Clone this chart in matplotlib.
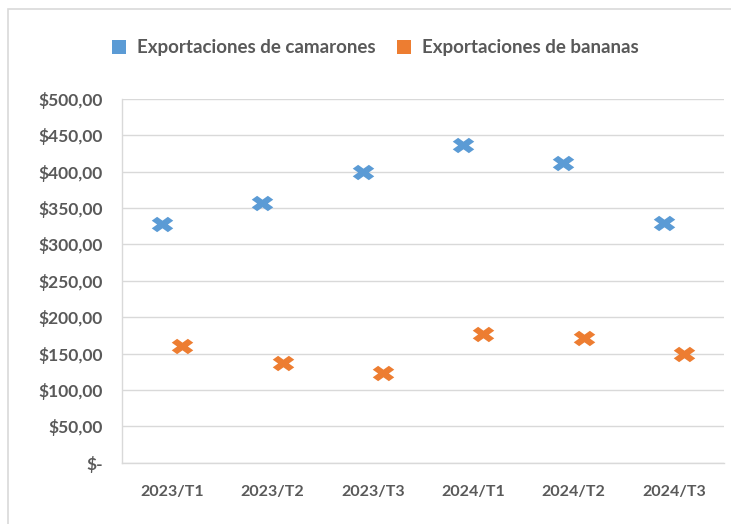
import matplotlib
matplotlib.use("Agg")
import matplotlib.pyplot as plt
from matplotlib.patches import Rectangle
from matplotlib.ticker import FuncFormatter
from matplotlib.markers import MarkerStyle
from matplotlib.path import Path
from matplotlib.transforms import Affine2D

categories = ["2023/T1", "2023/T2", "2023/T3", "2024/T1", "2024/T2", "2024/T3"]
camarones = [328, 357, 400, 437, 412, 330]
bananas = [161, 137, 123, 177, 172, 149]
series_names = ["Exportaciones de camarones", "Exportaciones de bananas"]
yticks = [0, 50, 100, 150, 200, 250, 300, 350, 400, 450, 500]

plt.rcParams['font.family'] = ['Lato', 'DejaVu Sans']
W, H = 731, 524
fig = plt.figure(figsize=(W / 100, H / 100), dpi=100)
fig.patches.append(Rectangle((8 / W, -0.1), 1.2, 1.1 - 9 / H, transform=fig.transFigure,
                             fill=False, edgecolor='#d9d9d9', linewidth=1.2))

ms = MarkerStyle('X')
xpath = ms.get_path().transformed(ms.get_transform() + Affine2D().scale(1.4, 1.0))
xmarker = Path(xpath.vertices, xpath.codes)

ax = fig.add_axes([122 / W, 1 - 462.7 / H, (724 - 122) / W, (462.7 - 99) / H])
x = list(range(len(categories)))
off = 0.1
grey = '#595959'
ax.plot([i - off for i in x], camarones, linestyle='none', marker=xmarker, markersize=15.5,
        color='#5B9BD5', markeredgewidth=0, label=series_names[0])
ax.plot([i + off for i in x], bananas, linestyle='none', marker=xmarker, markersize=15.5,
        color='#ED7D31', markeredgewidth=0, label=series_names[1])

ax.set_xlim(-0.5, len(categories) - 0.5)
ax.set_ylim(0, 500)
ax.set_yticks(yticks)
ax.yaxis.set_major_formatter(FuncFormatter(lambda v, p: "$-" if v == 0 else ("$" + f"{v:.2f}".replace('.', ','))))
ax.set_xticks(x)
ax.set_xticklabels(categories)
ax.grid(axis='y', color='#d9d9d9', linewidth=1)
ax.set_axisbelow(True)
for s in ['top', 'right']:
    ax.spines[s].set_visible(False)
for s in ['left', 'bottom']:
    ax.spines[s].set_color('#d9d9d9')
    ax.spines[s].set_linewidth(1)
ax.tick_params(length=0, labelcolor=grey)
ax.tick_params(axis='x', pad=16, labelsize=11.5)
ax.tick_params(axis='y', pad=14, labelsize=12.5)
for lab in ax.get_xticklabels() + ax.get_yticklabels():
    lab.set_fontweight('bold')

leg = fig.legend(loc='center', bbox_to_anchor=(0.508, 1 - 48 / H), ncol=2, frameon=False,
                 fontsize=13.5, handletextpad=0.15, handlelength=1.6, columnspacing=0.7,
                 markerscale=0.65)
for h in leg.legend_handles:
    h.set_marker('s')
for t in leg.get_texts():
    t.set_color(grey)
    t.set_fontweight('bold')

fig.savefig("out.png", dpi=100)
